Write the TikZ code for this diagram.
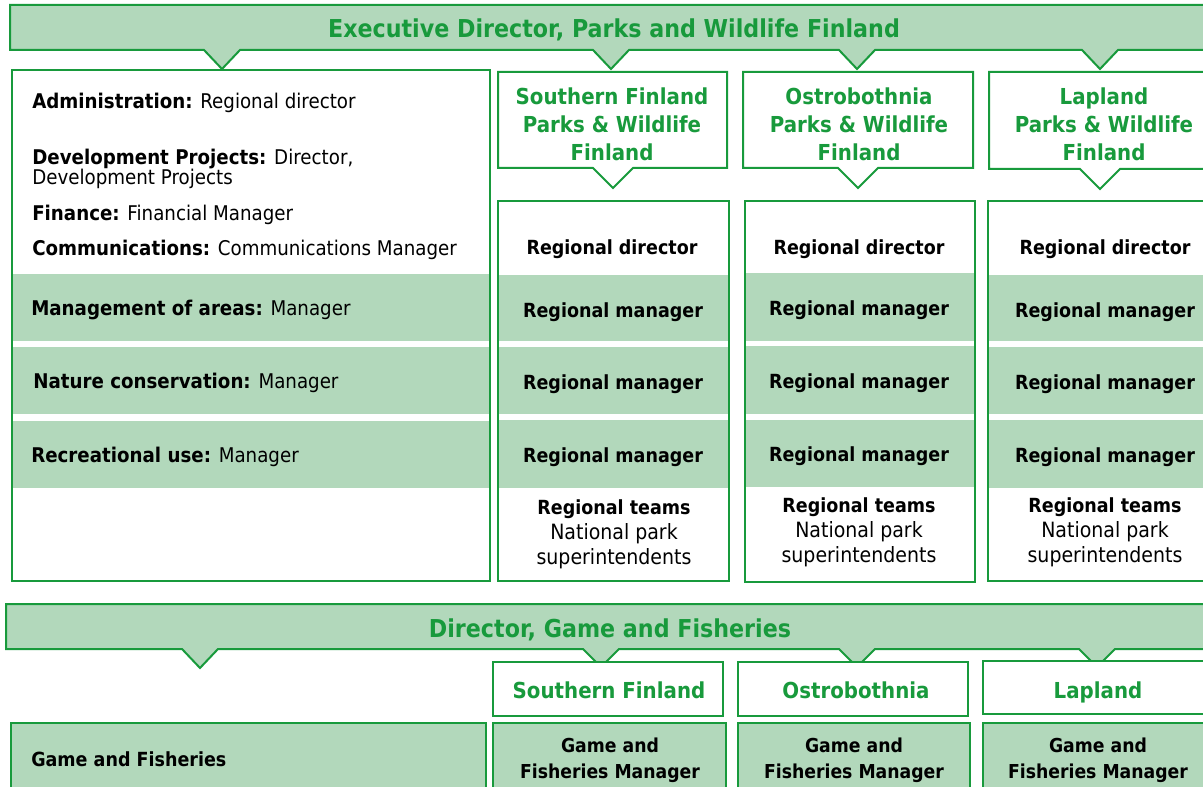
\documentclass[tikz,border=0pt]{standalone}
\usepackage{fontspec}
\setmainfont{DejaVu Sans}[FakeStretch=0.9]
\definecolor{pwgreen}{RGB}{24,154,60}
\definecolor{pwlight}{RGB}{178,216,187}

\begin{document}
\begin{tikzpicture}[x=0.75pt,y=0.75pt,yscale=-1,xscale=1,
    frame/.style={draw=pwgreen,line width=1.5pt},
    band/.style={fill=pwlight},
    headtext/.style={inner sep=0pt,yshift=-1.5pt,text=pwgreen,align=center,font=\fontsize{16.5}{21}\selectfont\bfseries},
    titletext/.style={inner sep=0pt,yshift=-1.5pt,text=pwgreen,font=\fontsize{18.5}{22}\selectfont\bfseries},
    roletext/.style={inner sep=0pt,yshift=-1.5pt,align=center,font=\fontsize{14.6}{18.75}\selectfont\bfseries},
    teamtext/.style={inner sep=0pt,yshift=-1.5pt,align=center,font=\fontsize{15.8}{18.75}\selectfont},
    unittext/.style={inner sep=0pt,yshift=-1.5pt,anchor=west,align=left,font=\fontsize{15.2}{15}\selectfont}]
    \useasboundingbox (0,0) rectangle (1203,787);

    %Shape: Callout [id:top banner]
    \draw  [frame,fill=pwlight] (10,5) -- (1215,5) -- (1215,50) -- (1118,50) -- (1100,69) -- (1082,50) -- (875,50) -- (857,69) -- (839,50) -- (629,50) -- (611,69) -- (593,50) -- (240,50) -- (222,69) -- (204,50) -- (10,50) -- cycle ;

    %Shape: Rectangle [id:staff bands]
    \fill  [band] (12,274) rectangle (490,341) ;
    \fill  [band] (12,347) rectangle (490,414) ;
    \fill  [band] (12,421) rectangle (490,488) ;
    %Shape: Rectangle [id:staff box]
    \draw  [frame] (12,70) rectangle (490,581) ;

    %Shape: Callout [id:southern head]
    \draw  [frame,fill=white] (498,72) -- (727,72) -- (727,168) -- (633,168) -- (613,188) -- (593,168) -- (498,168) -- cycle ;
    %Shape: Callout [id:ostro head]
    \draw  [frame,fill=white] (743,72) -- (973,72) -- (973,168) -- (878,168) -- (858,188) -- (838,168) -- (743,168) -- cycle ;
    %Shape: Callout [id:lapland head]
    \draw  [frame,fill=white] (989,72) -- (1215,72) -- (1215,169) -- (1120,169) -- (1100,189) -- (1080,169) -- (989,169) -- cycle ;

    %Shape: Rectangle [id:southern column]
    \fill  [band] (498,275) rectangle (729,341) ;
    \fill  [band] (498,347) rectangle (729,414) ;
    \fill  [band] (498,420) rectangle (729,488) ;
    \draw  [frame] (498,201) rectangle (729,581) ;
    %Shape: Rectangle [id:ostro column]
    \fill  [band] (745,273) rectangle (975,341) ;
    \fill  [band] (745,346) rectangle (975,414) ;
    \fill  [band] (745,420) rectangle (975,487) ;
    \draw  [frame] (745,201) rectangle (975,582) ;
    %Shape: Rectangle [id:lapland column]
    \fill  [band] (988,275) rectangle (1215,341) ;
    \fill  [band] (988,347) rectangle (1215,414) ;
    \fill  [band] (988,420) rectangle (1215,488) ;
    \draw  [frame] (988,201) rectangle (1215,581) ;

    %Shape: Callout [id:game banner]
    \draw  [frame,fill=pwlight] (6,604) -- (1215,604) -- (1215,649) -- (1115,649) -- (1097,667) -- (1079,649) -- (875,649) -- (857,667) -- (839,649) -- (619,649) -- (601,667) -- (583,649) -- (218,649) -- (200,668) -- (182,649) -- (6,649) -- cycle ;
    %Shape: Rectangle [id:game heads]
    \draw  [frame,fill=white] (493,662) rectangle (723,716) ;
    \draw  [frame,fill=white] (738,662) rectangle (968,716) ;
    \draw  [frame,fill=white] (983,661) rectangle (1215,714) ;
    %Shape: Rectangle [id:game boxes]
    \draw  [frame,fill=pwlight] (11,723) rectangle (486,800) ;
    \draw  [frame,fill=pwlight] (493,723) rectangle (726,800) ;
    \draw  [frame,fill=pwlight] (738,723) rectangle (970,800) ;
    \draw  [frame,fill=pwlight] (983,723) rectangle (1215,800) ;

    % Text Node
    \node (pwtitle) at (614,28) [titletext] {Executive Director, Parks and Wildlife Finland};
    % Text Node
    \node (adm) at (32,101) [unittext] {\textbf{Administration:} Regional director};
    % Text Node
    \node (dev) at (32,167) [unittext] {\textbf{Development Projects:} Director,\\Development Projects};
    % Text Node
    \node (fin) at (32,213) [unittext] {\textbf{Finance:} Financial Manager};
    % Text Node
    \node (com) at (32,248) [unittext] {\textbf{Communications:} Communications Manager};
    % Text Node
    \node (mgmt) at (31,308) [unittext] {\textbf{Management of areas:} Manager};
    % Text Node
    \node (nat) at (33,381) [unittext] {\textbf{Nature conservation:} Manager};
    % Text Node
    \node (rec) at (31,455) [unittext] {\textbf{Recreational use:} Manager};

    % Text Node
    \node (sfhead) at (612,122) [headtext] {Southern Finland\\Parks \& Wildlife\\Finland};
    % Text Node
    \node (obhead) at (859,122) [headtext] {Ostrobothnia\\Parks \& Wildlife\\Finland};
    % Text Node
    \node (lphead) at (1104,122) [headtext] {Lapland\\Parks \& Wildlife\\Finland};

    % Text Node
    \node (sfdir) at (612,247) [roletext] {Regional director};
    \node (sfman1) at (613,310) [roletext] {Regional manager};
    \node (sfman2) at (613,382) [roletext] {Regional manager};
    \node (sfman3) at (613,455) [roletext] {Regional manager};
    \node (sfteam) at (614,532) [teamtext] {{\fontsize{14.6}{18.75}\selectfont\bfseries Regional teams}\\National park\\superintendents};
    % Text Node
    \node (obdir) at (859,247) [roletext] {Regional director};
    \node (obman1) at (859,308) [roletext] {Regional manager};
    \node (obman2) at (859,381) [roletext] {Regional manager};
    \node (obman3) at (859,454) [roletext] {Regional manager};
    \node (obteam) at (859,530) [teamtext] {{\fontsize{14.6}{18.75}\selectfont\bfseries Regional teams}\\National park\\superintendents};
    % Text Node
    \node (lpdir) at (1105,247) [roletext] {Regional director};
    \node (lpman1) at (1105,310) [roletext] {Regional manager};
    \node (lpman2) at (1105,382) [roletext] {Regional manager};
    \node (lpman3) at (1105,455) [roletext] {Regional manager};
    \node (lpteam) at (1105,530) [teamtext] {{\fontsize{14.6}{18.75}\selectfont\bfseries Regional teams}\\National park\\superintendents};

    % Text Node
    \node (gftitle) at (610,628) [titletext] {Director, Game and Fisheries};
    % Text Node
    \node (gfsf) at (609,688) [headtext] {Southern Finland};
    \node (gfob) at (856,688) [headtext] {Ostrobothnia};
    \node (gflp) at (1098,690) [headtext] {Lapland};
    % Text Node
    \node (gfunit) at (31,757) [unittext,font=\fontsize{14.6}{15}\selectfont\bfseries] {Game and Fisheries};
    \node (gfsfman) at (610,758) [roletext,font=\fontsize{14.4}{19.5}\selectfont\bfseries] {Game and\\Fisheries Manager};
    \node (gfobman) at (854,758) [roletext,font=\fontsize{14.4}{19.5}\selectfont\bfseries] {Game and\\Fisheries Manager};
    \node (gflpman) at (1098,758) [roletext,font=\fontsize{14.4}{19.5}\selectfont\bfseries] {Game and\\Fisheries Manager};

\end{tikzpicture}
\end{document}
